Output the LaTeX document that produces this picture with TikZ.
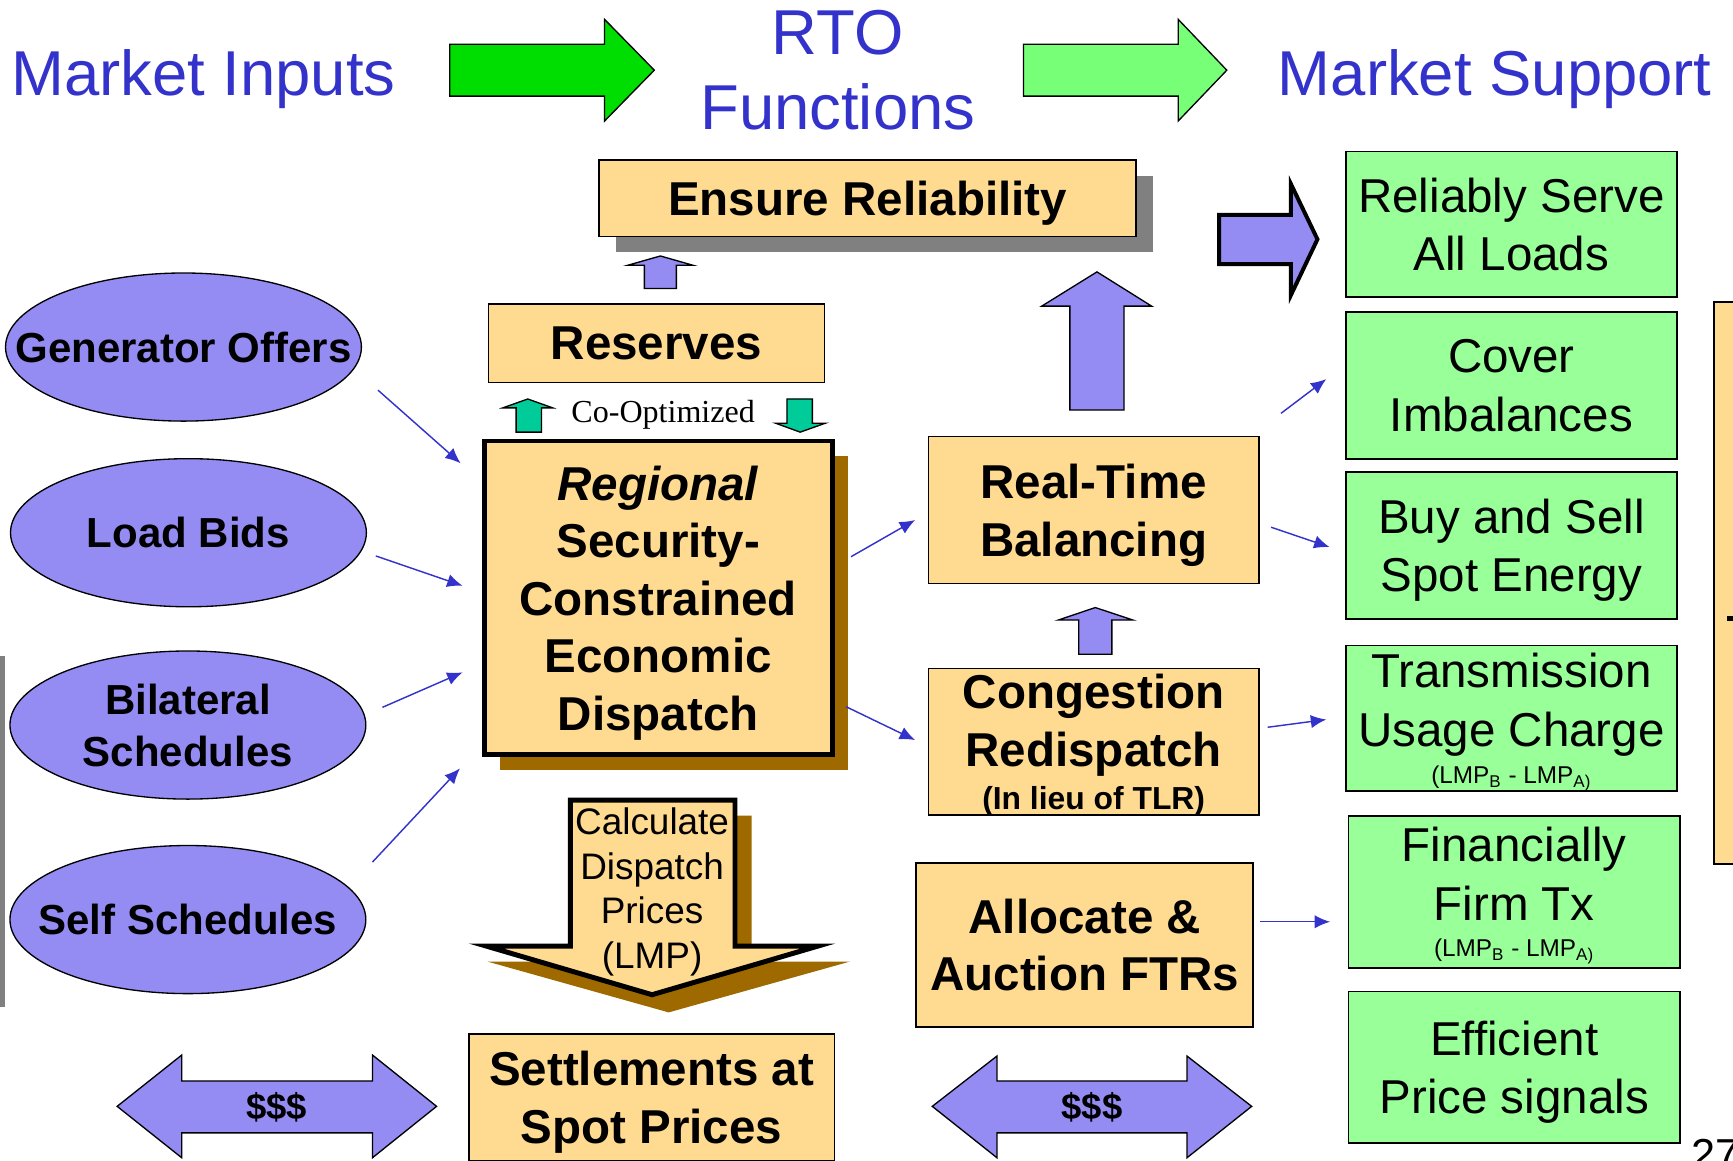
\documentclass[tikz,border=0pt]{standalone}
\usepackage{fontspec}
\setmainfont{Liberation Sans}
\newfontfamily\romanfont{Liberation Serif}
\usetikzlibrary{arrows.meta,shapes.geometric,shadows}
\definecolor{rtoblau}{RGB}{51,51,204}
\definecolor{lila}{RGB}{148,140,242}
\definecolor{sand}{RGB}{255,218,145}
\definecolor{hellgruen}{RGB}{153,255,153}
\definecolor{braun}{RGB}{158,106,0}
\definecolor{gruen}{RGB}{0,221,0}
\definecolor{mattgruen}{RGB}{119,255,119}
\definecolor{tuerkis}{RGB}{0,204,153}
\begin{document}
\begin{tikzpicture}[x=0.5pt, y=-0.5pt,
  kasten/.style={draw, fill=sand, line width=0.8pt, inner sep=0pt, align=center, text depth=0pt, font=\fontsize{21.5}{26}\selectfont\bfseries},
  ziel/.style={draw, fill=hellgruen, line width=0.8pt, inner sep=0pt, align=center, text depth=0pt, minimum width=149.5pt, minimum height=66.5pt, font=\fontsize{21.5}{26.5}\selectfont},
  eingabe/.style={ellipse, draw, fill=lila, line width=0.6pt, minimum width=161pt, minimum height=67pt, inner xsep=-60pt, inner ysep=0pt, align=center, text depth=0pt, font=\fontsize{19}{23.5}\selectfont\bfseries},
  titel/.style={text=rtoblau, align=center, text depth=0pt, font=\fontsize{28.7}{34}\selectfont},
  verb/.style={-{Latex[length=7pt,width=6pt]}, rtoblau, line width=0.65pt},
  block/.style={draw, line width=0.6pt}]
\clip (0,0) rectangle (1568,1050);
% Ueberschriften:
\node[titel, anchor=base] (inputs) at (184,86) {Market Inputs};
\node[titel] (rto) at (758,63) {RTO\\Functions};
\node[titel, anchor=base] (support) at (1352.5,86) {Market Support};
\draw[block, fill=gruen] (407,40) -- (547,40) -- (547,17.5) -- (592,63.5) -- (547,109.5) -- (547,87) -- (407,87) -- cycle;
\draw[block, fill=mattgruen] (926,40) -- (1066,40) -- (1066,17.5) -- (1110,63.5) -- (1066,109.5) -- (1066,87) -- (926,87) -- cycle;
% Eingaben links:
\fill[gray] (0,593.6) rectangle (4.5,911);
\node[eingabe] (gen) at (166,314) {Generator Offers};
\node[eingabe] (load) at (170.5,482) {Load Bids};
\node[eingabe] (bilat) at (170,656) {Bilateral\\Schedules};
\node[eingabe] (self) at (170,832) {Self Schedules};
% RTO Funktionen:
\node[kasten, minimum width=243pt, minimum height=34.5pt,
  drop shadow={opacity=1, fill=gray, shadow xshift=7.5pt, shadow yshift=-7pt}] (ensure) at (785,179.5) {Ensure Reliability};
\node[kasten, minimum width=152pt, minimum height=35.5pt] (reserves) at (594,310.5) {Reserves};
\node[font=\romanfont\fontsize{14.5}{17}\selectfont] (coopt) at (600,375) {Co-Optimized};
\node[kasten, line width=2.25pt, minimum width=157.5pt, minimum height=142pt,
  drop shadow={opacity=1, fill=braun, shadow xshift=7pt, shadow yshift=-7pt}] (sced) at (595.5,541)
  {\textit{Regional}\\Security-\\Constrained\\Economic\\Dispatch};
\node[kasten, minimum width=149.5pt, minimum height=66.5pt] (rtb) at (989.5,461.5) {Real-Time\\Balancing};
\node[kasten, minimum width=149.5pt, minimum height=66.25pt] (cong) at (989.5,671)
  {Congestion\\Redispatch\\[-6.5pt]{\fontsize{14.4}{15}\selectfont (In lieu of TLR)}};
\node[kasten, minimum width=152.5pt, minimum height=74pt] (ftr) at (981.5,855) {Allocate \&\\Auction FTRs};
% Preise:
\fill[braun, shift={(15,14)}] (516,724) -- (665,724) -- (665,856) -- (754,856) -- (590,902) -- (426,856) -- (516,856) -- cycle;
\draw[fill=sand, line width=2.25pt] (516,724) -- (665,724) -- (665,856) -- (740,856) -- (590,900) -- (440,856) -- (516,856) -- cycle;
\node[align=center, text depth=0pt, font=\fontsize{16.7}{20.2}\selectfont] (lmp) at (590,803.5) {Calculate\\Dispatch\\Prices\\(LMP)};
\node[kasten, minimum width=165.5pt, minimum height=57.2pt] (settle) at (589.5,992.8) {Settlements at\\Spot Prices};
% Geldfluss:
\draw[block, fill=lila] (106,1001) -- (164.4,954.6) -- (164.4,978) -- (337,978) -- (337,954.6) -- (395,1001) -- (337,1047.5) -- (337,1025) -- (164.4,1025) -- (164.4,1047.5) -- cycle;
\draw[block, fill=lila] (843.5,1001) -- (902,955.5) -- (902,978) -- (1074,978) -- (1074,955.5) -- (1132.5,1001) -- (1074,1047.5) -- (1074,1025) -- (902,1025) -- (902,1047.5) -- cycle;
\node[anchor=base, font=\fontsize{16.5}{20}\selectfont\bfseries] (geld1) at (250.3,1013) {\$\$\$};
\node[anchor=base, font=\fontsize{16.5}{20}\selectfont\bfseries] (geld2) at (988,1013) {\$\$\$};
% Blockpfeile:
\draw[block, fill=lila] (583,261) -- (583,240) -- (568,240) -- (597.5,231.6) -- (627,240) -- (612,240) -- (612,261) -- cycle;
\draw[block, fill=lila] (968,371) -- (968,277) -- (942.5,277) -- (992.5,246) -- (1042,277) -- (1017,277) -- (1017,371) -- cycle;
\draw[block, fill=lila] (976,592) -- (976,561) -- (957.5,561) -- (991,549.7) -- (1025,561) -- (1006,561) -- (1006,592) -- cycle;
\draw[block, fill=tuerkis] (467,391) -- (467,369) -- (455,369) -- (477.5,361) -- (500,369) -- (490,369) -- (490,391) -- cycle;
\draw[block, fill=tuerkis] (712,361) -- (712,383) -- (702,383) -- (724,391) -- (746.5,383) -- (735,383) -- (735,361) -- cycle;
\draw[fill=lila, line width=1.8pt] (1103,194.5) -- (1168,194.5) -- (1168,166.5) -- (1192,216.5) -- (1168,267) -- (1168,239) -- (1103,239) -- cycle;
% Ziele rechts:
\node[ziel, minimum height=66pt] (serve) at (1367.5,203) {Reliably Serve\\All Loads};
\node[ziel] (cover) at (1367.5,348.5) {Cover\\Imbalances};
\node[ziel] (spot) at (1367.5,493.5) {Buy and Sell\\Spot Energy};
\node[ziel, minimum height=66pt] (trans) at (1367.5,650)
  {Transmission\\Usage Charge\\[-9.7pt]{\fontsize{11}{11}\selectfont (LMP\textsubscript{B} - LMP\textsubscript{A)}}};
\node[ziel, minimum width=150pt, minimum height=69pt] (firm) at (1370,807)
  {Financially\\Firm Tx\\[-9.9pt]{\fontsize{11}{11}\selectfont (LMP\textsubscript{B} - LMP\textsubscript{A)}}};
\node[ziel, minimum width=150pt, minimum height=68.5pt] (price) at (1370,965.5) {Efficient\\Price signals};
\draw[fill=sand, line width=0.8pt] (1551,273) rectangle (1580,782);
\fill (1563,557) rectangle (1568,562);
\node[anchor=base west, font=\fontsize{19.6}{24}\selectfont] (seite) at (1523,1058) {27};
% Verbindungen:
\coordinate (gen-aus) at (342,353);
\coordinate (load-aus) at (340,503);
\coordinate (bilat-aus) at (346,640);
\coordinate (self-aus) at (337,780);
\coordinate (sced-ein1) at (416.8,419.2);
\coordinate (sced-ein2) at (418.6,530);
\coordinate (sced-ein3) at (418.6,608.3);
\coordinate (sced-ein4) at (416.2,695.2);
\coordinate (sced-aus1) at (770,503.7);
\coordinate (sced-aus2) at (765.5,639.4);
\coordinate (rtb-ein) at (828,470.5);
\coordinate (cong-ein) at (828,669.6);
\coordinate (rtb-aus1) at (1159,374);
\coordinate (rtb-aus2) at (1150,477);
\coordinate (cong-aus) at (1147,658);
\coordinate (ftr-aus) at (1140,834);
\coordinate (cover-ein) at (1200,343);
\coordinate (spot-ein) at (1203,495);
\coordinate (trans-ein) at (1200,651);
\coordinate (firm-ein) at (1203.5,834);
\draw[verb] (gen-aus) -- (sced-ein1);
\draw[verb] (load-aus) -- (sced-ein2);
\draw[verb] (bilat-aus) -- (sced-ein3);
\draw[verb] (self-aus) -- (sced-ein4);
\draw[verb] (sced-aus1) -- (rtb-ein);
\draw[verb] (sced-aus2) -- (cong-ein);
\draw[verb] (rtb-aus1) -- (cover-ein);
\draw[verb] (rtb-aus2) -- (spot-ein);
\draw[verb] (cong-aus) -- (trans-ein);
\draw[verb] (ftr-aus) -- (firm-ein);
\end{tikzpicture}
\end{document}
